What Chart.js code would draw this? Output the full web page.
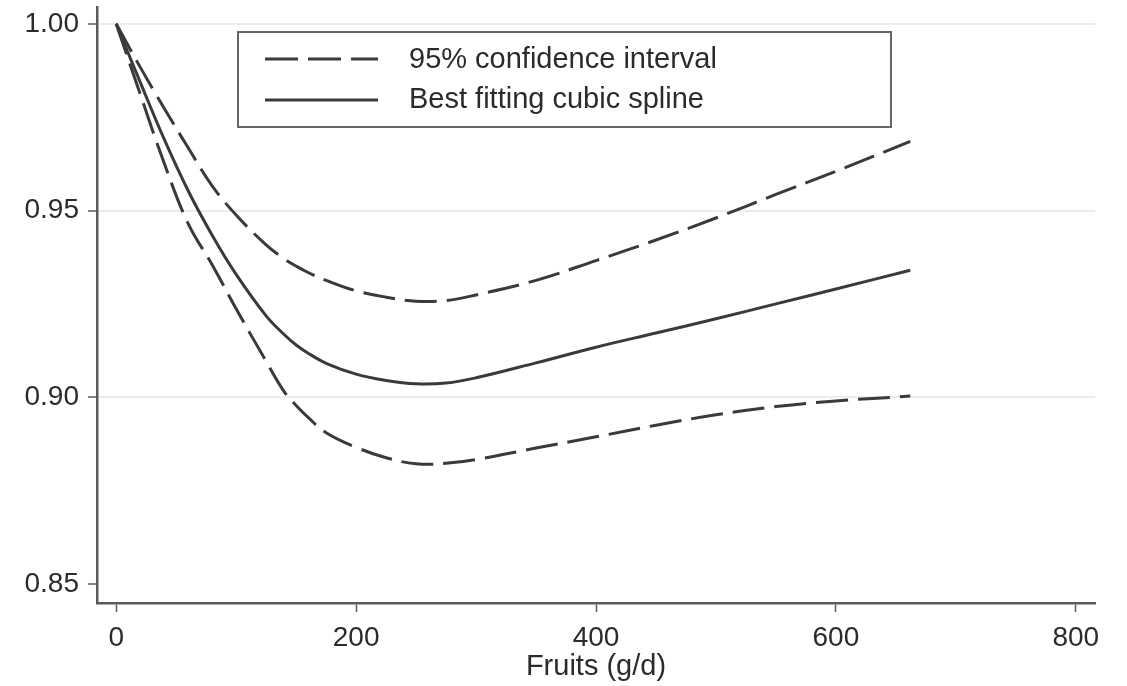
<!DOCTYPE html>
<html>
<head>
<meta charset="utf-8">
<script src="https://cdn.jsdelivr.net/npm/chart.js@4.4.0/dist/chart.umd.min.js"></script>
<style>
  body { margin: 0; background: #fff; }
  #wrap { width: 1127px; height: 686px; }
</style>
</head>
<body>
<div id="wrap"><canvas id="myChart"></canvas></div>
<script>
// fruit intake (g/d)
var xValues = [0, 20, 40, 60, 80, 100, 125, 140, 150, 160, 175, 200, 225, 250, 275, 300, 350, 400, 450, 500, 550, 600, 662];
// relative risk
var splineValues = [1.000, 0.9844, 0.9691, 0.9553, 0.9434, 0.9329, 0.9218, 0.9168, 0.9140, 0.9118, 0.9091, 0.9062, 0.9045, 0.9036, 0.9038, 0.9052, 0.9092, 0.9134, 0.9172, 0.921, 0.925, 0.929, 0.934];
var upperValues = [1.000, 0.9884, 0.9774, 0.9668, 0.9566, 0.9488, 0.9408, 0.9371, 0.9351, 0.9334, 0.9313, 0.9285, 0.9268, 0.9257, 0.9259, 0.9274, 0.9313, 0.9366, 0.9421, 0.948, 0.9543, 0.9605, 0.9685];
var lowerValues = [1.000, 0.9812, 0.9627, 0.9465, 0.9355, 0.9237, 0.9096, 0.9015, 0.8978, 0.8946, 0.8905, 0.8866, 0.8838, 0.8822, 0.8823, 0.8833, 0.8864, 0.8894, 0.8925, 0.8953, 0.8975, 0.899, 0.9003];

var xTicks = [0, 200, 400, 600, 800];
var yTicks = [0.85, 0.90, 0.95, 1.00];
var legendLabels = ["95% confidence interval", "Best fitting cubic spline"];

var lineColor = "#3a3a3a";
var textColor = "#2b2b2b";
var axisColor = "#5a5a5a";

function toPoints(ys) {
    return xValues.map(function (x, i) { return { x: x, y: ys[i] }; });
}

// legend box drawn inside the plot, like the original figure
var boxLegend = {
    id: "boxLegend",
    afterDraw: function (chart) {
        var ctx = chart.ctx;
        ctx.save();
        ctx.strokeStyle = "#666";
        ctx.lineWidth = 2;
        ctx.fillStyle = "#fff";
        ctx.fillRect(238, 32, 653, 95);
        ctx.strokeRect(238, 32, 653, 95);

        ctx.strokeStyle = lineColor;
        ctx.lineWidth = 3;
        ctx.setLineDash([33, 10]);
        ctx.beginPath();
        ctx.moveTo(265, 59);
        ctx.lineTo(378, 59);
        ctx.stroke();
        ctx.setLineDash([]);
        ctx.beginPath();
        ctx.moveTo(265, 100);
        ctx.lineTo(378, 100);
        ctx.stroke();

        ctx.fillStyle = textColor;
        ctx.font = "29px 'Liberation Sans', Arial, sans-serif";
        ctx.textBaseline = "middle";
        ctx.fillText(legendLabels[0], 409, 60);
        ctx.fillText(legendLabels[1], 409, 100);
        ctx.restore();
    }
};

new Chart("myChart", {
    type: "line",
    data: {
        datasets: [{
            label: "Upper 95% CI",
            data: toPoints(upperValues),
            borderColor: lineColor,
            borderWidth: 3,
            borderDash: [32, 10],
            pointRadius: 0,
            tension: 0.4,
            fill: false
        }, {
            label: "Best fitting cubic spline",
            data: toPoints(splineValues),
            borderColor: lineColor,
            borderWidth: 3,
            pointRadius: 0,
            tension: 0.4,
            fill: false
        }, {
            label: "Lower 95% CI",
            data: toPoints(lowerValues),
            borderColor: lineColor,
            borderWidth: 3,
            borderDash: [32, 10],
            pointRadius: 0,
            tension: 0.4,
            fill: false
        }]
    },
    options: {
        responsive: true,
        maintainAspectRatio: false,
        animation: false,
        layout: { padding: { top: 7, right: 32, left: 0, bottom: 0 } },
        plugins: {
            legend: { display: false },
            tooltip: { enabled: false }
        },
        scales: {
            x: {
                type: "linear",
                min: -16,
                max: 816,
                afterBuildTicks: function (scale) {
                    scale.ticks = xTicks.map(function (v) { return { value: v }; });
                },
                afterFit: function (scale) {
                    scale.height = 83;
                    scale.paddingLeft = 0;
                    scale.paddingRight = 0;
                },
                grid: {
                    drawOnChartArea: false,
                    tickLength: 9,
                    tickColor: axisColor,
                    tickWidth: 1.5
                },
                border: { color: axisColor, width: 2.5 },
                ticks: {
                    padding: 12,
                    color: textColor,
                    maxRotation: 0,
                    font: { family: "'Liberation Sans', Arial, sans-serif", size: 28, lineHeight: 1 }
                },
                title: {
                    display: true,
                    text: "Fruits (g/d)",
                    color: textColor,
                    padding: { top: 0, bottom: 5 },
                    font: { family: "'Liberation Sans', Arial, sans-serif", size: 29, lineHeight: 1 }
                }
            },
            y: {
                min: 0.8449,
                max: 1.0045,
                afterBuildTicks: function (scale) {
                    scale.ticks = yTicks.map(function (v) { return { value: v }; });
                },
                afterFit: function (scale) {
                    scale.width = 97;
                    scale.paddingTop = 0;
                    scale.paddingBottom = 0;
                },
                grid: {
                    color: function (c) {
                        return (c.tick && Math.abs(c.tick.value - 0.85) < 1e-6) ? "rgba(0,0,0,0)" : "#ececec";
                    },
                    lineWidth: 2,
                    tickLength: 9,
                    tickColor: axisColor,
                    tickWidth: 1.5
                },
                border: { color: axisColor, width: 2.5 },
                ticks: {
                    padding: 9,
                    color: textColor,
                    font: { family: "'Liberation Sans', Arial, sans-serif", size: 28 },
                    callback: function (v) { return Number(v).toFixed(2); }
                }
            }
        }
    },
    plugins: [boxLegend]
});
</script>
</body>
</html>
